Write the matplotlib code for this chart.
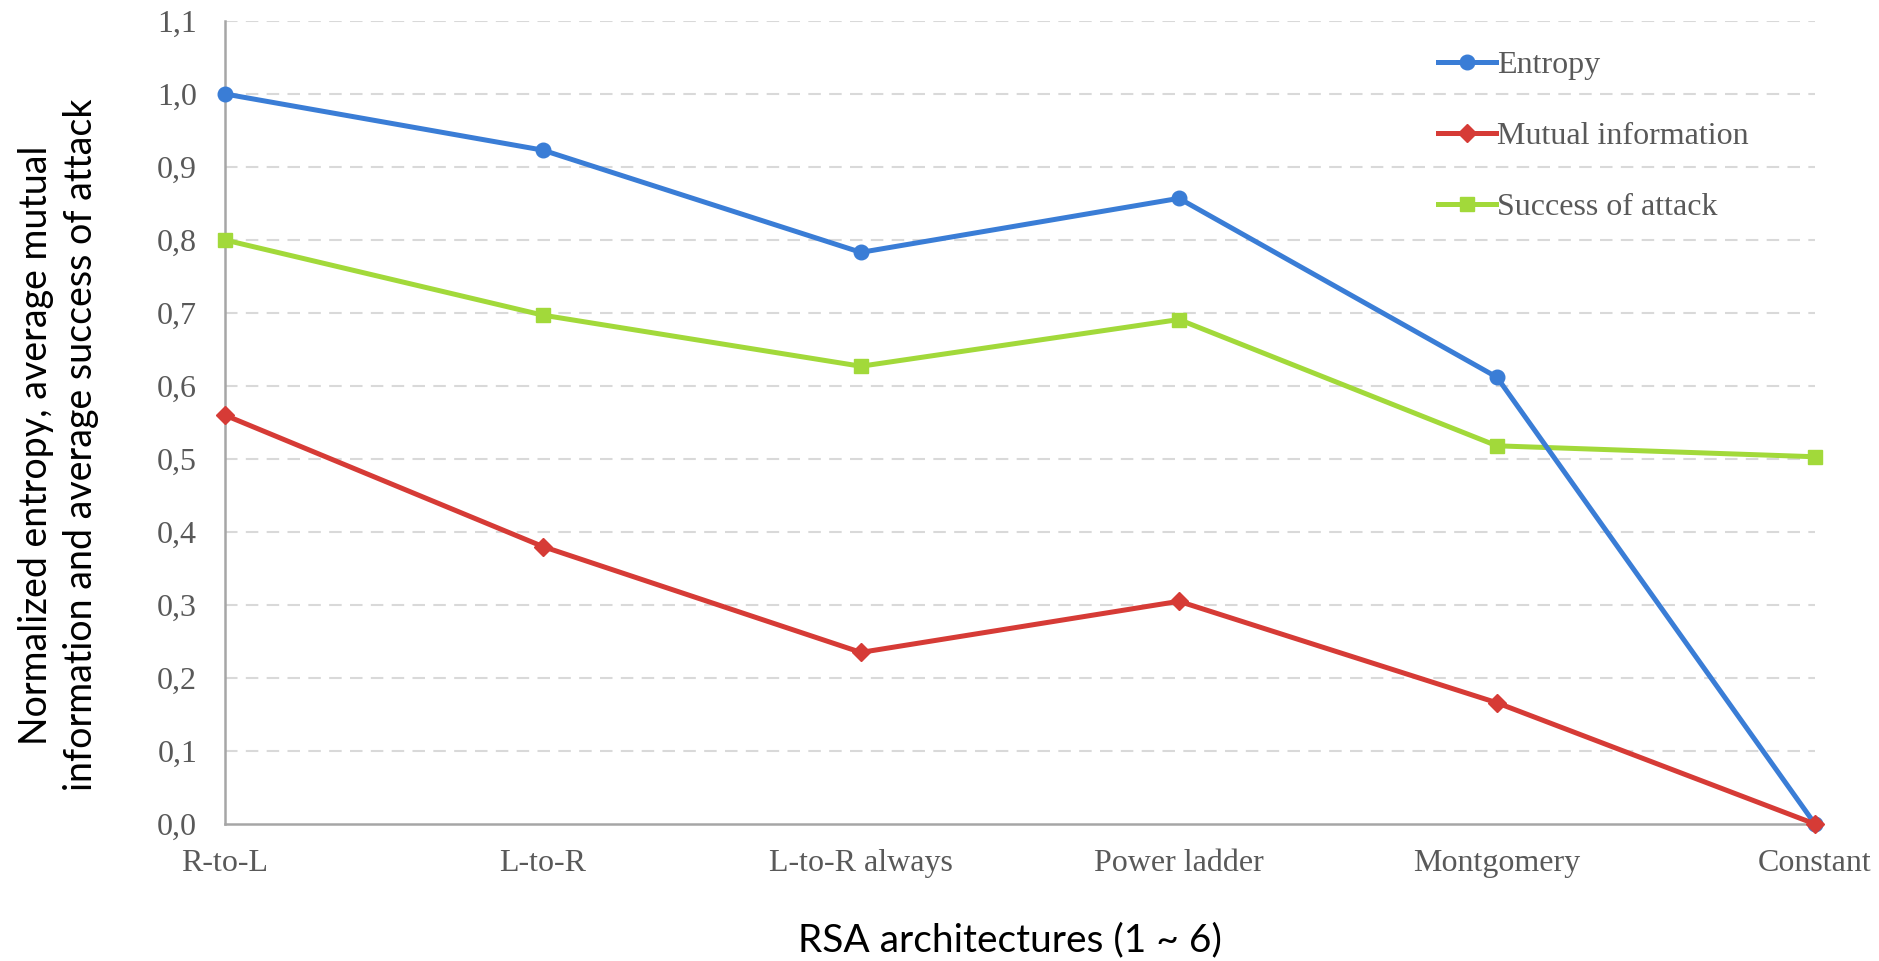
import numpy as np
import matplotlib.pyplot as plt

architectures = ["R-to-L", "L-to-R", "L-to-R always", "Power ladder", "Montgomery", "Constant"]
entropy = [1.000, 0.923, 0.783, 0.857, 0.612, 0.000]
mutual_info = [0.560, 0.380, 0.235, 0.305, 0.166, 0.000]
attack_success = [0.800, 0.697, 0.627, 0.691, 0.518, 0.503]
y_ticks = np.arange(0, 1.11, 0.1)

fig = plt.figure(figsize=(18.79, 9.61), dpi=100)
ax = fig.add_axes([0.1197, 0.1426, 0.8462, 0.8356])

x = np.arange(len(architectures))
ax.plot(x, entropy, color='#3A7DD6', lw=3.6, marker='o', ms=10.5,
        label='Entropy', clip_on=False, zorder=5)
ax.plot(x, mutual_info, color='#D63B36', lw=3.6, marker='D', ms=9,
        label='Mutual information', clip_on=False, zorder=6)
ax.plot(x, attack_success, color='#A2D93A', lw=3.6, marker='s', ms=10,
        label='Success of attack', clip_on=False, zorder=4)

ax.set_xlim(0, 5)
ax.set_ylim(0, 1.1)
ax.set_yticks(y_ticks)
ax.set_yticklabels([f"{v:.1f}".replace('.', ',') for v in y_ticks])
ax.set_xticks(x)
ax.set_xticklabels(architectures)

for lab in ax.get_xticklabels() + ax.get_yticklabels():
    lab.set_fontfamily('Liberation Serif')
    lab.set_fontsize(23)
    lab.set_color('#595959')
ax.tick_params(axis='both', length=0)
ax.tick_params(axis='x', pad=18)
ax.tick_params(axis='y', pad=20)

# dashed horizontal grid, skipping the baseline
for v in y_ticks[1:]:
    ax.axhline(v, color='#D9D9D9', lw=1.5, ls=(0, (6, 4)), zorder=1)

for side in ['top', 'right']:
    ax.spines[side].set_visible(False)
for side in ['left', 'bottom']:
    ax.spines[side].set_color('#A6A6A6')
    ax.spines[side].set_linewidth(1.8)

fig.text(0.5375, 0.022, "RSA architectures (1 ~ 6)", family='Lato', size=28,
         ha='center', va='center')
fig.text(0.031, 0.537, "Normalized entropy, average mutual\ninformation and average success of attack",
         family='Lato', size=27, rotation=90, ha='center', va='center',
         multialignment='center', linespacing=1.3)

ax.legend(loc='upper left', bbox_to_anchor=(0.745, 0.999), frameon=False,
          prop=dict(family='Liberation Serif', size=23), labelcolor='#595959',
          handlelength=1.8, handletextpad=0.05, labelspacing=1.31)

fig.savefig('out.png', dpi=100)
